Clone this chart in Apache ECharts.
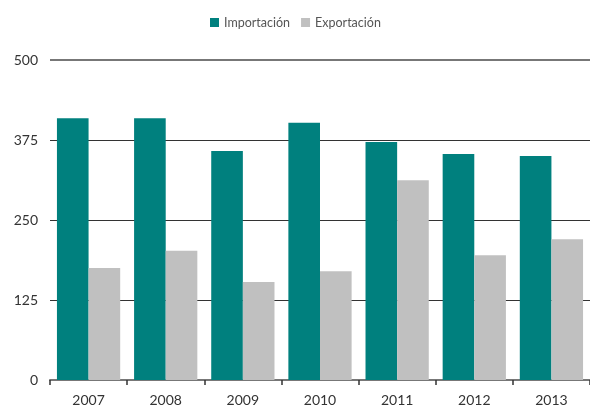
<!DOCTYPE html>
<html><head><meta charset="utf-8">
<script src="https://cdn.jsdelivr.net/npm/echarts@6/dist/echarts.min.js"></script>
<style>html,body{margin:0;padding:0;background:#fff}#c{width:590px;height:408px}</style>
</head><body><div id="c"></div>
<script>
const categories = ['2007','2008','2009','2010','2011','2012','2013'];
const importacion = [409, 409, 358, 402, 372, 353, 350];
const exportacion = [175, 202, 153, 170, 312, 195, 220];
const seriesNames = ['Importación','Exportación'];
const yMax = 500;

const chart = echarts.init(document.getElementById('c'));
chart.setOption({
  animation:false,
  textStyle:{fontFamily:'Lato, "Open Sans", sans-serif'},
  legend:{
    data:seriesNames, top:11, left:205, itemWidth:9, itemHeight:9, itemGap:11,
    icon:'rect', textStyle:{fontSize:12.5,color:'#555',fontFamily:'Lato'}
  },
  grid:{left:50, right:0, top:60, bottom:28},
  xAxis:{
    type:'category', data:categories,
    axisLine:{lineStyle:{color:'#777',width:2}},
    axisTick:{show:true,length:5,lineStyle:{color:'#333',width:1.5}},
    axisLabel:{fontSize:14,color:'#333',margin:13,fontFamily:'Lato'}
  },
  yAxis:{
    type:'value', min:0, max:yMax, interval:125,
    axisLine:{show:false}, axisTick:{show:false},
    axisLabel:{fontSize:14,color:'#333',margin:12,fontFamily:'Lato'},
    splitLine:{lineStyle:{color:'#333',width:1}}
  },
  series:[
    {name:seriesNames[0], type:'bar', data:importacion, itemStyle:{color:'#00807e'}, barGap:'0%', barCategoryGap:'18%',
     markLine:{silent:true, symbol:'none', label:{show:false}, lineStyle:{color:'#777',width:2,type:'solid'}, data:[{yAxis:yMax}]}},
    {name:seriesNames[1], type:'bar', data:exportacion, itemStyle:{color:'#c0c0c0'}, barGap:'0%', barCategoryGap:'18%'}
  ]
});
</script></body></html>
